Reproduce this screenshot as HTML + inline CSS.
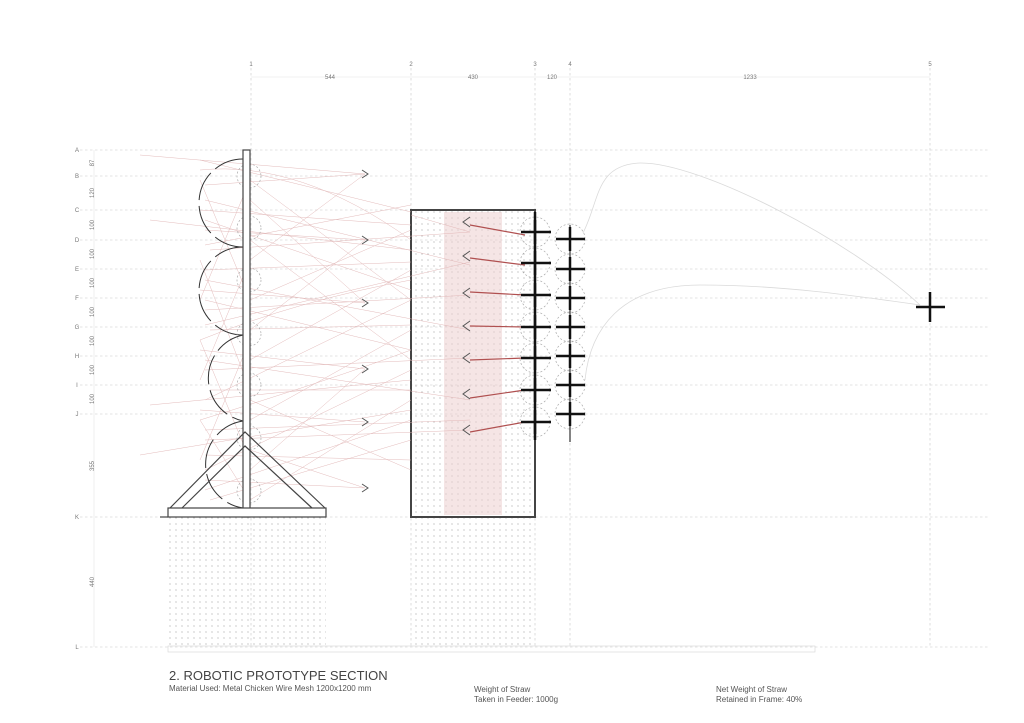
<!DOCTYPE html>
<html><head><meta charset="utf-8"><style>
html,body{margin:0;padding:0;background:#fff}
svg{display:block}
text{font-family:"Liberation Sans",sans-serif}
</style></head><body>
<svg width="1024" height="723" viewBox="0 0 1024 723" xmlns="http://www.w3.org/2000/svg">
<defs>
<pattern id="dots" width="6" height="6" patternUnits="userSpaceOnUse"><circle cx="2" cy="2" r="0.55" fill="#888"/></pattern>
</defs>
<g stroke="#c8c8c8" stroke-width="0.6" stroke-dasharray="2.5,2.5">
<line x1="80" y1="150" x2="988" y2="150"/><line x1="80" y1="176" x2="988" y2="176"/>
<line x1="80" y1="210" x2="988" y2="210"/><line x1="80" y1="240" x2="988" y2="240"/>
<line x1="80" y1="269" x2="988" y2="269"/><line x1="80" y1="298" x2="988" y2="298"/>
<line x1="80" y1="327" x2="988" y2="327"/><line x1="80" y1="356" x2="988" y2="356"/>
<line x1="80" y1="385" x2="988" y2="385"/><line x1="80" y1="414" x2="988" y2="414"/>
<line x1="80" y1="517" x2="988" y2="517"/><line x1="80" y1="647" x2="988" y2="647"/>
<line x1="251" y1="68" x2="251" y2="647"/><line x1="411" y1="68" x2="411" y2="647"/>
<line x1="535" y1="68" x2="535" y2="647"/><line x1="570" y1="68" x2="570" y2="647"/>
<line x1="930" y1="68" x2="930" y2="647"/>
</g>
<line x1="94" y1="150" x2="94" y2="647" stroke="#e4e4e4" stroke-width="0.6"/>
<line x1="251" y1="77" x2="930" y2="77" stroke="#e4e4e4" stroke-width="0.6"/>
<g font-size="6" fill="#777" text-anchor="middle">
<text x="251" y="66">1</text><text x="411" y="66">2</text><text x="535" y="66">3</text><text x="570" y="66">4</text><text x="930" y="66">5</text>
<text x="330" y="79">544</text><text x="473" y="79">430</text><text x="552" y="79">120</text><text x="750" y="79">1233</text>
<text x="77" y="152">A</text><text x="77" y="178">B</text><text x="77" y="212">C</text><text x="77" y="242">D</text><text x="77" y="271">E</text><text x="77" y="300">F</text><text x="77" y="329">G</text><text x="77" y="358">H</text><text x="77" y="387">I</text><text x="77" y="416">J</text><text x="77" y="519">K</text><text x="77" y="649">L</text>
</g>
<g font-size="6" fill="#777" text-anchor="middle">
<text transform="translate(94,163) rotate(-90)">87</text>
<text transform="translate(94,193) rotate(-90)">120</text>
<text transform="translate(94,225) rotate(-90)">100</text>
<text transform="translate(94,254) rotate(-90)">100</text>
<text transform="translate(94,283) rotate(-90)">100</text>
<text transform="translate(94,312) rotate(-90)">100</text>
<text transform="translate(94,341) rotate(-90)">100</text>
<text transform="translate(94,370) rotate(-90)">100</text>
<text transform="translate(94,399) rotate(-90)">100</text>
<text transform="translate(94,466) rotate(-90)">355</text>
<text transform="translate(94,582) rotate(-90)">440</text>
</g>
<rect x="168" y="517" width="158" height="130" fill="url(#dots)"/>
<rect x="411" y="517" width="124" height="130" fill="url(#dots)"/>
<rect x="411" y="210" width="124" height="307" fill="url(#dots)"/>
<rect x="444" y="212" width="58" height="303" fill="#ecd0d0" opacity="0.55"/>
<rect x="411" y="210" width="124" height="307" fill="none" stroke="#444" stroke-width="2"/>
<g stroke="#e0b4b4" stroke-width="0.5" fill="none" opacity="0.9">
<path d="M140 155 L365 174"/><path d="M200 160 L411 212"/><path d="M205 185 L365 174"/><path d="M200 210 L411 225"/>
<path d="M205 230 L365 240"/><path d="M210 250 L470 232"/><path d="M205 270 L411 262"/><path d="M200 290 L365 303"/>
<path d="M205 310 L470 295"/><path d="M210 330 L411 325"/><path d="M200 350 L365 369"/><path d="M205 370 L470 358"/>
<path d="M210 390 L411 390"/><path d="M200 410 L365 422"/><path d="M205 430 L470 420"/><path d="M140 455 L411 410"/>
<path d="M205 480 L365 488"/><path d="M210 500 L411 440"/><path d="M250 180 L411 300"/><path d="M250 240 L411 360"/>
<path d="M250 300 L411 230"/><path d="M250 360 L411 270"/><path d="M250 420 L411 330"/><path d="M250 470 L365 369"/>
<path d="M250 200 L365 303"/><path d="M250 330 L365 240"/><path d="M250 260 L365 174"/><path d="M250 400 L411 470"/>
<path d="M250 450 L365 488"/><path d="M250 500 L411 400"/><path d="M200 180 L250 300"/><path d="M200 260 L250 390"/>
<path d="M200 340 L250 460"/><path d="M200 420 L250 500"/><path d="M200 300 L250 180"/><path d="M200 380 L250 260"/>
<path d="M200 460 L250 340"/><path d="M150 220 L411 250"/><path d="M150 405 L411 380"/><path d="M411 215 L470 232"/>
<path d="M205 200 L470 265"/><path d="M205 280 L470 330"/><path d="M205 360 L470 400"/><path d="M205 440 L470 430"/>
<path d="M205 220 L411 290"/><path d="M205 300 L411 350"/><path d="M205 400 L411 300"/><path d="M205 470 L411 370"/>
<path d="M205 245 L411 205"/><path d="M205 325 L470 262"/><path d="M205 455 L411 460"/><path d="M205 490 L411 420"/>
<path d="M200 170 Q300 160 411 240"/><path d="M200 340 Q300 300 411 280"/><path d="M200 420 Q330 380 411 350"/>
</g>
<g stroke="#b05050" stroke-width="1.2" fill="none">
<path d="M470 225 L525 235"/><path d="M470 258 L525 265"/><path d="M470 292 L525 295"/><path d="M470 326 L525 327"/>
<path d="M470 360 L525 358"/><path d="M470 398 L525 390"/><path d="M470 432 L525 422"/>
</g>
<g stroke="#555" stroke-width="1" fill="none">
<path d="M470 217 L463 222 L470 227"/><path d="M470 251 L463 256 L470 261"/><path d="M470 288 L463 293 L470 298"/><path d="M470 321 L463 326 L470 331"/>
<path d="M470 353 L463 358 L470 363"/><path d="M470 389 L463 394 L470 399"/><path d="M470 425 L463 430 L470 435"/>
<path d="M362 170 L368 174 L362 178"/><path d="M362 236 L368 240 L362 244"/><path d="M362 299 L368 303 L362 307"/>
<path d="M362 365 L368 369 L362 373"/><path d="M362 418 L368 422 L362 426"/><path d="M362 484 L368 488 L362 492"/>
</g>
<g stroke="#333" stroke-width="1" fill="none" stroke-dasharray="30,6">
<path d="M243 159 A44 44 0 0 0 243 247"/><path d="M243 247 A44 44 0 0 0 243 335"/>
<path d="M243 335 A44 44 0 0 0 243 421"/><path d="M243 421 A44 44 0 0 0 243 508"/>
</g>
<g stroke="#aaa" stroke-width="0.7" fill="none" stroke-dasharray="2,2">
<circle cx="249" cy="176" r="12"/><circle cx="249" cy="228" r="12"/><circle cx="249" cy="280" r="12"/>
<circle cx="249" cy="334" r="12"/><circle cx="249" cy="385" r="12"/><circle cx="249" cy="438" r="12"/><circle cx="249" cy="491" r="12"/>
<circle cx="535" cy="232" r="15"/><circle cx="535" cy="263" r="15"/><circle cx="535" cy="295" r="15"/><circle cx="535" cy="327" r="15"/><circle cx="535" cy="358" r="15"/><circle cx="535" cy="390" r="15"/><circle cx="535" cy="422" r="15"/>
<circle cx="570" cy="239" r="15"/><circle cx="570" cy="269" r="15"/><circle cx="570" cy="298" r="15"/><circle cx="570" cy="327" r="15"/><circle cx="570" cy="356" r="15"/><circle cx="570" cy="385" r="15"/><circle cx="570" cy="414" r="15"/>
</g>
<rect x="243" y="150" width="7" height="367" fill="#fff" stroke="#444" stroke-width="1.2"/>
<rect x="168" y="508" width="158" height="9" fill="#fff" stroke="#444" stroke-width="1.2"/>
<g stroke="#444" stroke-width="1.2" fill="none">
<path d="M170 508 L245 432 L325 508"/><path d="M182 508 L245 446 L312 508"/>
<line x1="160" y1="517" x2="168" y2="517"/>
</g>
<rect x="168" y="646" width="647" height="6" fill="none" stroke="#d4d4d4" stroke-width="0.6"/>
<line x1="535" y1="212" x2="535" y2="440" stroke="#111" stroke-width="2.5"/>
<line x1="570" y1="225" x2="570" y2="442" stroke="#333" stroke-width="1.2"/>
<g stroke="#dadada" stroke-width="0.8" fill="none">
<path d="M583 233 C600 200,595 165,640 163 C700 162,850 240,920 305"/>
<path d="M585 380 C590 330,620 285,700 285 C780 285,850 295,920 305"/>
</g>
<g stroke="#111" stroke-width="2.5">
<path d="M521 232h30M535 220v24M521 263h30M535 251v24M521 295h30M535 283v24M521 327h30M535 315v24M521 358h30M535 346v24M521 390h30M535 378v24M521 422h30M535 410v24"/>
<path d="M556 239h29M570 227v24M556 269h29M570 257v24M556 298h29M570 286v24M556 327h29M570 315v24M556 356h29M570 344v24M556 385h29M570 373v24M556 414h29M570 402v24"/>
<path d="M916 307h29M930 292v30"/>
</g>
<text x="169" y="680" font-size="13" fill="#444">2. ROBOTIC PROTOTYPE SECTION</text>
<text x="169" y="691" font-size="8" fill="#555">Material Used: Metal Chicken Wire Mesh 1200x1200 mm</text>
<text x="474" y="692" font-size="8" fill="#555">Weight of Straw</text>
<text x="474" y="702" font-size="8" fill="#555">Taken in Feeder: 1000g</text>
<text x="716" y="692" font-size="8" fill="#555">Net Weight of Straw</text>
<text x="716" y="702" font-size="8" fill="#555">Retained in Frame: 40%</text>
</svg>
</body></html>
